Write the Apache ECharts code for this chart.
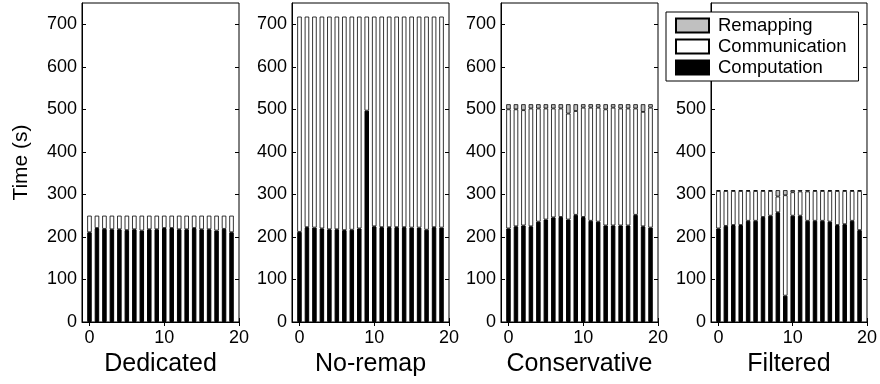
<!DOCTYPE html>
<html>
<head>
<meta charset="utf-8">
<script src="https://cdn.jsdelivr.net/npm/echarts@6/dist/echarts.min.js"></script>
<style>
html, body { margin: 0; padding: 0; background: #fff; }
#main { width: 880px; height: 384px; }
</style>
</head>
<body>
<div id="main"></div>
<script>
// x categories: -1 .. 20 so the axis runs from -1 to 20 like the original
var xCats = ['-1', '0', '1', '2', '3', '4', '5', '6', '7', '8', '9', '10', '11', '12', '13', '14', '15', '16', '17', '18', '19', '20'];
var xTickLabels = ['0', '10', '20'];
var yTickValues = [0, 100, 200, 300, 400, 500, 600, 700];
var panelNames = ['Dedicated', 'No-remap', 'Conservative', 'Filtered'];

// values per run 0..19
var dedicatedComp = [211, 221, 219, 218, 218, 216, 218, 215, 218, 218, 221, 221, 218, 218, 221, 218, 218, 215, 219, 211];
var dedicatedComm = [39, 29, 31, 32, 32, 34, 32, 35, 32, 32, 29, 29, 32, 32, 29, 32, 32, 35, 31, 39];

var noremapComp = [212, 223, 222, 220, 218, 218, 216, 217, 220, 497, 225, 223, 223, 223, 223, 222, 222, 217, 223, 222];
var noremapComm = [506, 495, 496, 498, 500, 500, 502, 501, 498, 221, 493, 495, 495, 495, 495, 496, 496, 501, 495, 496];

var conservComp = [220, 225, 227, 225, 236, 241, 246, 247, 241, 252, 247, 238, 236, 227, 227, 227, 227, 252, 225, 222];
var conservComm = [280, 275, 271, 277, 266, 261, 256, 255, 249, 244, 257, 266, 268, 273, 277, 275, 275, 250, 269, 282];
var conservRemap = [12, 12, 14, 10, 10, 10, 10, 10, 22, 16, 8, 8, 8, 12, 8, 10, 10, 10, 18, 8];

var filteredComp = [220, 226, 228, 228, 238, 238, 247, 250, 258, 62, 250, 250, 238, 238, 238, 236, 228, 230, 238, 216];
var filteredComm = [88, 82, 80, 80, 70, 70, 61, 58, 37, 236, 55, 57, 69, 70, 70, 72, 80, 78, 70, 92];
var filteredRemap = [2, 2, 2, 2, 2, 2, 2, 2, 15, 12, 5, 3, 3, 2, 2, 2, 2, 2, 2, 2];

var panels = [
  { comp: dedicatedComp, comm: dedicatedComm, remap: null },
  { comp: noremapComp, comm: noremapComm, remap: null },
  { comp: conservComp, comm: conservComm, remap: conservRemap },
  { comp: filteredComp, comm: filteredComm, remap: filteredRemap }
];

var FONT = 'Liberation Sans, Arial, sans-serif';
var gridLefts = [82, 292, 501, 711];

function padded(vals) {
  // empty slots at -1 and 20
  return ['-'].concat(vals).concat(['-']);
}

function showTick(idx, val) {
  return xTickLabels.indexOf(val) >= 0;
}

var grids = [], xAxes = [], yAxes = [], series = [];

panels.forEach(function (p, i) {
  grids.push({
    left: gridLefts[i], top: 3, width: 157, height: 319,
    show: true, borderColor: '#000', borderWidth: 1, backgroundColor: '#fff'
  });
  // bottom axis
  xAxes.push({
    type: 'category', gridIndex: i, data: xCats, boundaryGap: false,
    name: panelNames[i], nameLocation: 'middle', nameGap: 28,
    nameTextStyle: { fontSize: 25, fontFamily: FONT, color: '#000' },
    axisLine: { lineStyle: { color: '#000' } },
    axisTick: { inside: true, length: 4, interval: showTick, lineStyle: { color: '#000' } },
    axisLabel: { interval: showTick, fontSize: 18, fontFamily: FONT, color: '#000', margin: 7 },
    splitLine: { show: false }
  });
  // top mirror
  xAxes.push({
    type: 'category', gridIndex: i, data: xCats, boundaryGap: false, position: 'top',
    axisLine: { show: false },
    axisTick: { inside: true, length: 4, interval: showTick, lineStyle: { color: '#000' } },
    axisLabel: { show: false }, splitLine: { show: false }
  });
  yAxes.push({
    type: 'value', gridIndex: i, min: 0, max: 750, interval: 100,
    name: i === 0 ? 'Time (s)' : '', nameLocation: 'middle', nameGap: 50,
    nameTextStyle: { fontSize: 21, fontFamily: FONT, color: '#000' },
    axisLine: { show: true, lineStyle: { color: '#000' } },
    axisTick: { show: true, inside: true, length: 4, customValues: yTickValues, lineStyle: { color: '#000' } },
    axisLabel: { fontSize: 18, fontFamily: FONT, color: '#000', margin: 5, customValues: yTickValues },
    splitLine: { show: false }
  });
  yAxes.push({
    type: 'value', gridIndex: i, min: 0, max: 750, interval: 100, position: 'right',
    axisLine: { show: false },
    axisTick: { show: true, inside: true, length: 4, customValues: yTickValues, lineStyle: { color: '#000' } },
    axisLabel: { show: false }, splitLine: { show: false }
  });

  var base = {
    type: 'bar', xAxisIndex: i * 2, yAxisIndex: i * 2, stack: 'p' + i,
    barWidth: 4.5, silent: true
  };
  series.push(Object.assign({}, base, {
    name: 'Computation', data: padded(p.comp),
    itemStyle: { color: '#000', borderColor: '#000', borderWidth: 1 }
  }));
  series.push(Object.assign({}, base, {
    name: 'Communication', data: padded(p.comm),
    itemStyle: { color: '#fff', borderColor: '#000', borderWidth: 0.8 }
  }));
  if (p.remap) {
    series.push(Object.assign({}, base, {
      name: 'Remapping', data: padded(p.remap),
      itemStyle: { color: '#c0c0c0', borderColor: '#000', borderWidth: 0.8 }
    }));
  }
});

var chart = echarts.init(document.getElementById('main'));
chart.setOption({
  animation: false,
  backgroundColor: '#fff',
  grid: grids,
  xAxis: xAxes,
  yAxis: yAxes,
  legend: {
    data: ['Remapping', 'Communication', 'Computation'],
    orient: 'vertical', left: 666, top: 12,
    icon: 'rect', itemWidth: 33, itemHeight: 14, itemGap: 2,
    padding: [4, 12, 4, 9],
    backgroundColor: '#fff', borderColor: '#000', borderWidth: 1,
    textStyle: { fontSize: 18.5, fontFamily: FONT, color: '#000', lineHeight: 18, padding: [0, 0, 0, 4] },
    selectedMode: false
  },
  series: series
});
</script>
</body>
</html>
